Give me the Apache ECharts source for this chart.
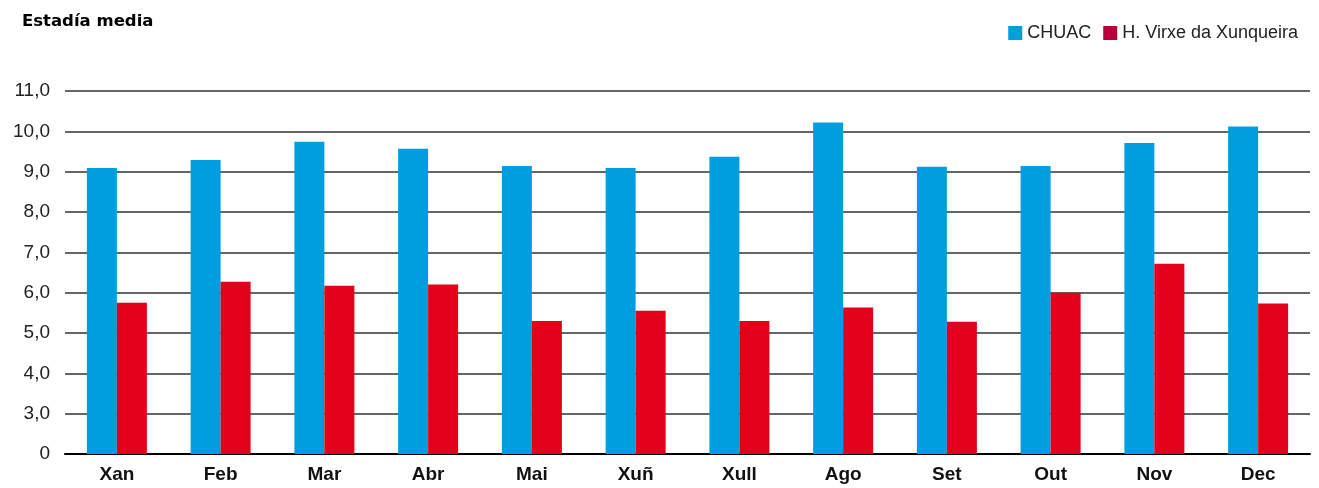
<!DOCTYPE html>
<html>
<head>
<meta charset="utf-8">
<script src="https://cdn.jsdelivr.net/npm/echarts@6/dist/echarts.min.js"></script>
<style>
  html, body { margin: 0; padding: 0; background: #fff; }
  #main { width: 1319px; height: 488px; }
</style>
</head>
<body>
<div id="main"></div>
<script>
var meses = ['Xan', 'Feb', 'Mar', 'Abr', 'Mai', 'Xuñ', 'Xull', 'Ago', 'Set', 'Out', 'Nov', 'Dec'];
var chuac = [9.09, 9.29, 9.74, 9.57, 9.14, 9.09, 9.37, 10.22, 9.12, 9.14, 9.71, 10.12];
var virxe = [5.75, 6.27, 6.17, 6.2, 5.3, 5.55, 5.3, 5.63, 5.28, 6.0, 6.72, 5.73];

window.onload = function () {
    var myChart = echarts.init(document.getElementById('main'));
    var option = {
        animation: false,
        textStyle: { fontFamily: 'Liberation Sans, Arial, sans-serif' },
        title: {
            text: 'Estadía media',
            left: 17,
            top: 8,
            textStyle: { fontSize: 16.5, fontWeight: 'bold', color: '#000', fontFamily: 'DejaVu Sans' }
        },
        legend: {
            right: 16,
            top: 19,
            itemWidth: 14,
            itemHeight: 14,
            itemGap: 12,
            icon: 'rect',
            textStyle: { fontSize: 18, color: '#222', padding: [0, 0, 0, 0] },
            data: [
                { name: 'CHUAC', itemStyle: { color: '#009ddf' } },
                { name: 'H. Virxe da Xunqueira', itemStyle: { color: '#b8003a' } }
            ]
        },
        grid: { left: 65, right: 9, top: 91, bottom: 34 },
        xAxis: {
            type: 'category',
            data: meses,
            axisTick: { show: false },
            axisLine: { lineStyle: { color: '#000', width: 2 } },
            axisLabel: { fontSize: 19, fontWeight: 'bold', color: '#111', margin: 11 }
        },
        yAxis: {
            type: 'value',
            min: 2,
            max: 11,
            interval: 1,
            axisLine: { show: false },
            axisTick: { show: false },
            axisLabel: {
                fontSize: 19,
                color: '#222',
                margin: 15,
                formatter: function (v) {
                    if (v === 2) return '0'; // eixo cortado
                    return v.toFixed(1).replace('.', ',');
                }
            },
            splitLine: { lineStyle: { color: '#333', width: 1.5 } }
        },
        series: [
            {
                name: 'CHUAC',
                type: 'bar',
                data: chuac,
                barWidth: 30,
                barGap: '0%',
                itemStyle: { color: '#009ddf' }
            },
            {
                name: 'H. Virxe da Xunqueira',
                type: 'bar',
                data: virxe,
                barWidth: 30,
                itemStyle: { color: '#e2001a' }
            }
        ]
    };
    myChart.setOption(option);
};
</script>
</body>
</html>
